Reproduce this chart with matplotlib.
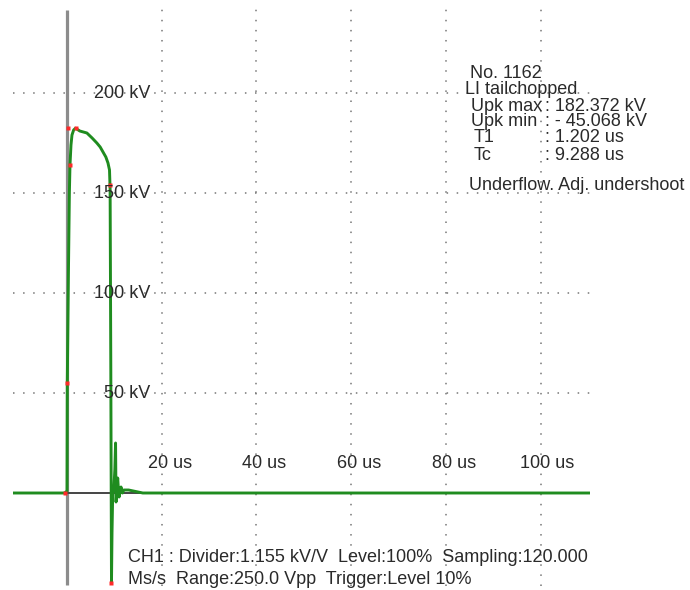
import matplotlib
matplotlib.use("Agg")
import matplotlib.pyplot as plt
from matplotlib.transforms import offset_copy

plt.rcParams['font.family'] = ['Liberation Sans', 'DejaVu Sans']

# waveform (time in us, voltage in kV)
t_us = [-11.4, -0.5, 0.0, 0.06, 0.3, 0.5, 0.63, 0.84, 1.05, 1.4, 1.8, 2.7, 4.2, 5.3,
        6.3, 7.0, 7.6, 8.2, 8.65, 8.97, 9.1, 9.25, 9.39, 9.5, 9.65, 9.9, 10.1, 10.25,
        10.35, 10.5, 10.7, 10.85, 11.0, 11.2, 11.4, 11.7, 12.0, 12.5, 13.0, 14.0,
        15.0, 16.0, 110.4]
kv = [0, 0, 1, 55, 110, 150, 164, 174, 179, 181.5, 182.4, 181, 180, 177.5,
      175, 173, 170.5, 168, 165, 161.5, 152, 60, -45, -20, 0, 2, 12, 25,
      -4.5, 0, 7.5, 2, -2, 1, 3, 0, 1.5, 1.5, 1.5, 1,
      0.5, 0, 0]

# marker points
mark_t = [-0.4, 0.06, 0.63, 0.25, 1.9, 9.05, 9.39]
mark_kv = [0, 55, 164, 182.4, 182.4, 154, -45]

kv_grid = [50, 100, 150, 200]
kv_labels = ['50 kV', '100 kV', '150 kV', '200 kV']
us_grid = [20, 40, 60, 80, 100]
us_labels = ['20 us', '40 us', '60 us', '80 us', '100 us']

info_left = ['Upk max', 'Upk min', 'T1', 'Tc']
info_right = [': 182.372 kV', ': - 45.068 kV', ': 1.202 us', ': 9.288 us']

W, H = 690, 590
fig = plt.figure(figsize=(W / 100, H / 100), dpi=100)
fig.patch.set_facecolor('white')
ax = fig.add_axes([13 / W, 1 - 586 / H, 577 / W, 578 / H])
ax.set_xlim(-11.4, 110.4)
ax.set_ylim(-46.5, 242.5)
ax.axis('off')

txt = '#2a2a2a'
fs = 13

# dotted grid
for v in kv_grid:
    ax.plot([-11.4, 110.4], [v, v], color='#777777', lw=1.1,
            linestyle=(0, (1, 5.6)), zorder=1)
for t in us_grid:
    ax.plot([t, t], [-46.5, 242.5], color='#777777', lw=1.1,
            linestyle=(0, (1, 5.6)), zorder=1)

# axes lines
ax.plot([0, 0], [-46, 241.5], color='#8c8c8c', lw=2.3, zorder=2, solid_capstyle='butt')
ax.plot([-11.4, 110.4], [0, 0], color='#444444', lw=1.4, zorder=2)

# trace
ax.plot(t_us, kv, color='#1f8c1f', lw=2.1, zorder=3, solid_joinstyle='round')
ax.plot(mark_t, mark_kv, linestyle='none', marker='s', ms=2.2, color='#ff2a2a',
        mec='none', zorder=4)

# y labels
for v, lab in zip(kv_grid, kv_labels):
    ax.text(17.5, v, lab, ha='right', va='center', fontsize=fs, color=txt, zorder=5)

# x labels
for t, lab in zip(us_grid, us_labels):
    n = len(lab.split()[0])
    tr = offset_copy(ax.transData, fig=fig, x=-7 * n, y=0, units='dots')
    ax.text(t, 15, lab, ha='left', va='center', fontsize=fs, color=txt,
            transform=tr, zorder=5)


def px(x, y):
    return x / W, 1 - y / H


# info block
fig.text(*px(470, 73), 'No. 1162', ha='left', va='center', fontsize=fs, color=txt)
fig.text(*px(465, 89), 'LI tailchopped', ha='left', va='center', fontsize=fs, color=txt)
rows_y = [106, 122, 138, 155]
rows_x = [471, 471, 474, 474]
for y, x, a, b in zip(rows_y, rows_x, info_left, info_right):
    fig.text(*px(x, y), a, ha='left', va='center', fontsize=fs, color=txt)
    fig.text(*px(545, y), b, ha='left', va='center', fontsize=fs, color=txt)
fig.text(*px(469, 186), 'Underflow. Adj. undershoot', ha='left', va='center',
         fontsize=fs, color=txt)

# bottom status text
fig.text(*px(128, 557), 'CH1 : Divider:1.155 kV/V  Level:100%  Sampling:120.000',
         ha='left', va='center', fontsize=fs, color=txt)
fig.text(*px(128, 580), 'Ms/s  Range:250.0 Vpp  Trigger:Level 10%',
         ha='left', va='center', fontsize=fs, color=txt)

fig.savefig('out.png', dpi=100, facecolor='white')
